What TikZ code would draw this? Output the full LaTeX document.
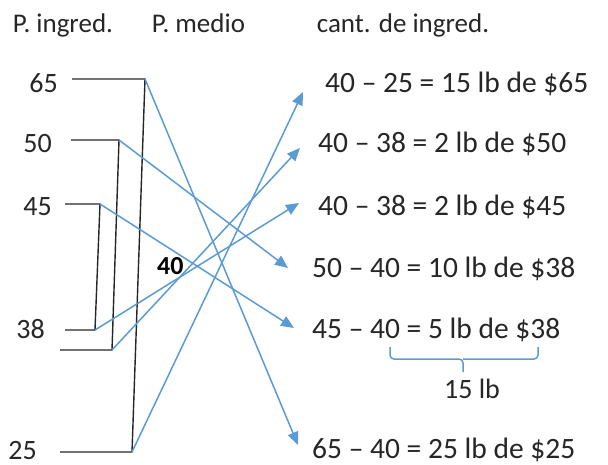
\documentclass[tikz,border=0pt]{standalone}
\usepackage{fontspec}
\setmainfont{Carlito}
\usetikzlibrary{arrows.meta}
\definecolor{lineblue}{HTML}{5B9BD5}
\definecolor{ink}{HTML}{262626}
\begin{document}
\begin{tikzpicture}[x=1pt,y=-1pt,
  txt/.style={inner sep=0pt, font=\fontsize{28}{30}\selectfont, text=ink},
  rt/.style={txt, anchor=base west, font=\fontsize{29.5}{31}\selectfont},
  lt/.style={txt, anchor=base east},
  hd/.style={txt, anchor=base, font=\fontsize{27}{30}\selectfont},
  bracket/.style={draw=ink, line width=1.4pt},
  flow/.style={draw=lineblue, line width=1.5pt, -{Triangle[length=13pt,width=11pt]}},
  bracebl/.style={draw=lineblue, line width=1.5pt, rounded corners=4pt}]
\useasboundingbox (0,0) rectangle (608,465);
% headers
\node[hd] (h1) at (63,33) {P. ingred.};
\node[hd] (h2) at (198.5,33) {P. medio};
\node[hd] (h3) at (403,33) {cant. de ingred.};
% left labels
\node[lt] (n65) at (58,93) {65};
\node[lt] (n50) at (52,153) {50};
\node[lt] (n45) at (52,216) {45};
\node[lt] (n38) at (45,338) {38};
\node[lt] (n25) at (37,459) {25};
% middle
\node[anchor=base west, inner sep=0pt, font=\fontsize{26}{28}\selectfont\bfseries] (mid) at (157,275) {40};
% right labels
\node[rt] (r1) at (325,93) {40 – 25 = 15 lb de \$65};
\node[rt] (r2) at (318,153) {40 – 38 = 2 lb de \$50};
\node[rt] (r3) at (318,216) {40 – 38 = 2 lb de \$45};
\node[rt] (r4) at (312,277) {50 – 40 = 10 lb de \$38};
\node[rt] (r5) at (312,338) {45 – 40 = 5 lb de \$38};
\node[rt] (r6) at (312,458) {65 – 40 = 25 lb de \$25};
\node[txt, anchor=base] (tot) at (472,398) {15 lb};
% bracket corners
\coordinate (s65) at (72,79);   \coordinate (a65) at (145,79);
\coordinate (s50) at (71,140);  \coordinate (a50) at (119,140);
\coordinate (s45) at (65,204);  \coordinate (a45) at (100,204);
\coordinate (s38) at (65,330);  \coordinate (b45) at (95,330);
\coordinate (s38b) at (60,350); \coordinate (b50) at (112,350);
\coordinate (s25) at (60,452);  \coordinate (b65) at (132,452);
\draw[bracket] (s65) -- (a65) -- (b65) -- (s25);
\draw[bracket] (s50) -- (a50) -- (b50) -- (s38b);
\draw[bracket] (s45) -- (a45) -- (b45) -- (s38);
% arrow tips
\coordinate (t1) at (303,92);
\coordinate (t2) at (300,148);
\coordinate (t3) at (299,203);
\coordinate (t4) at (288,268);
\coordinate (t5) at (294,328);
\coordinate (t6) at (298,445);
\draw[flow] (a65) -- (t6);
\draw[flow] (a50) -- (t4);
\draw[flow] (a45) -- (t5);
\draw[flow] (b45) -- (t3);
\draw[flow] (b50) -- (t2);
\draw[flow] (b65) -- (t1);
% brace
\coordinate (bl) at (390,347);
\coordinate (br) at (538,347);
\coordinate (bm) at (463,372);
\draw[bracebl] (bl) -- (bl |- 0,359) -- (bm |- 0,359) -- (bm);
\draw[bracebl] (br) -- (br |- 0,359) -- (bm |- 0,359);
\end{tikzpicture}
\end{document}
